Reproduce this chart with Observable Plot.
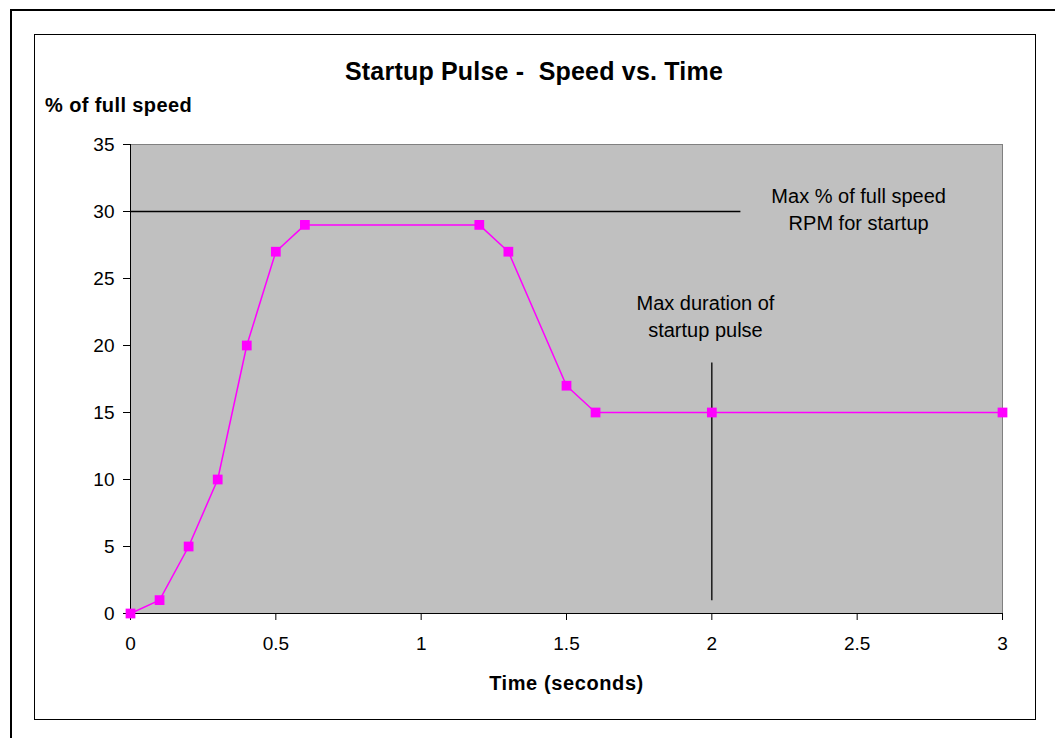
<!DOCTYPE html>
<html>
<head>
<meta charset="utf-8">
<script src="https://cdn.jsdelivr.net/npm/d3@7"></script>
<script src="https://cdn.jsdelivr.net/npm/@observablehq/plot@0.6"></script>
<style>
  body { margin: 0; background: #fff; font-family: "Liberation Sans", Arial, sans-serif; }
  #wrap { position: relative; width: 1055px; height: 738px; overflow: hidden; }
  #outer { position: absolute; left: 10px; top: 9px; width: 1060px; height: 740px; border: 2px solid #000; box-sizing: border-box; }
  #inner { position: absolute; left: 34px; top: 34px; width: 1002px; height: 686px; border: 1px solid #000; box-sizing: border-box; }
  .t { position: absolute; white-space: nowrap; color: #000; line-height: 1; }
  #chart { position: absolute; left: 0; top: 0; }
</style>
</head>
<body>
<div id="wrap">
  <div id="outer"></div>
  <div id="inner"></div>
  <div id="chart"></div>
  <div class="t" id="title" style="left:0;width:1068px;text-align:center;top:59px;font-size:25px;font-weight:bold;letter-spacing:0.2px;">Startup Pulse -&nbsp; Speed vs. Time</div>
  <div class="t" id="ylab" style="left:45px;top:95px;font-size:20px;font-weight:bold;letter-spacing:0.4px;">% of full speed</div>
  <div class="t" id="xlab" style="left:0;width:1133px;text-align:center;top:673px;font-size:20px;font-weight:bold;letter-spacing:0.6px;">Time (seconds)</div>
</div>
<script>
const timeSec = [0, 0.1, 0.2, 0.3, 0.4, 0.5, 0.6, 1.2, 1.3, 1.5, 1.6, 2, 3];
const speedPct = [0, 1, 5, 10, 20, 27, 29, 29, 27, 17, 15, 15, 15];
const xTicks = [0, 0.5, 1, 1.5, 2, 2.5, 3];
const yTicks = [0, 5, 10, 15, 20, 25, 30, 35];
const maxSpeedLine = {x1: 0, x2: 2.1, y: 30};
const maxDurationLine = {x: 2, y1: 0.95, y2: 18.7};
const annotations = [
  {x: 2.505, y: 31.1, text: "Max % of full speed"},
  {x: 2.505, y: 29.1, text: "RPM for startup"},
  {x: 1.978, y: 23.1, text: "Max duration of"},
  {x: 1.978, y: 21.1, text: "startup pulse"}
];

const data = timeSec.map((t, i) => ({t, v: speedPct[i]}));

const plot = Plot.plot({
  width: 1055,
  height: 738,
  marginLeft: 130,
  marginRight: 53,
  marginTop: 144,
  marginBottom: 125,
  style: {fontFamily: "'Liberation Sans', Arial, sans-serif", fontSize: "19px", background: "transparent", color: "#000"},
  x: {domain: [0, 3], ticks: xTicks, tickFormat: d => String(d)},
  y: {domain: [0, 35], ticks: yTicks, tickFormat: d => String(d)},
  marks: [
    Plot.frame({fill: "#c0c0c0", stroke: "#808080"}),
    Plot.axisX({ticks: xTicks, tickSize: 7, tickPadding: 16, fontSize: 19, label: null, tickFormat: d => String(d)}),
    Plot.axisY({ticks: yTicks, tickSize: 7, tickPadding: 9, fontSize: 19, label: null, tickFormat: d => String(d)}),
    Plot.ruleX([0], {stroke: "#000"}),
    Plot.ruleY([0], {stroke: "#000"}),
    Plot.ruleY([maxSpeedLine], {y: "y", x1: "x1", x2: "x2", stroke: "#000", strokeWidth: 1.3}),
    Plot.ruleX([maxDurationLine], {x: "x", y1: "y1", y2: "y2", stroke: "#000", strokeWidth: 1.3}),
    Plot.line(data, {x: "t", y: "v", stroke: "#ff00ff", strokeWidth: 1.5}),
    Plot.dot(data, {x: "t", y: "v", symbol: "square", r: 5.5, fill: "#ff00ff", stroke: "none"}),
    Plot.text(annotations, {x: "x", y: "y", text: "text", fontSize: 20, fill: "#000", textAnchor: "middle", style: "letter-spacing:0.3px"})
  ]
});
document.getElementById("chart").appendChild(plot);
</script>
</body>
</html>
